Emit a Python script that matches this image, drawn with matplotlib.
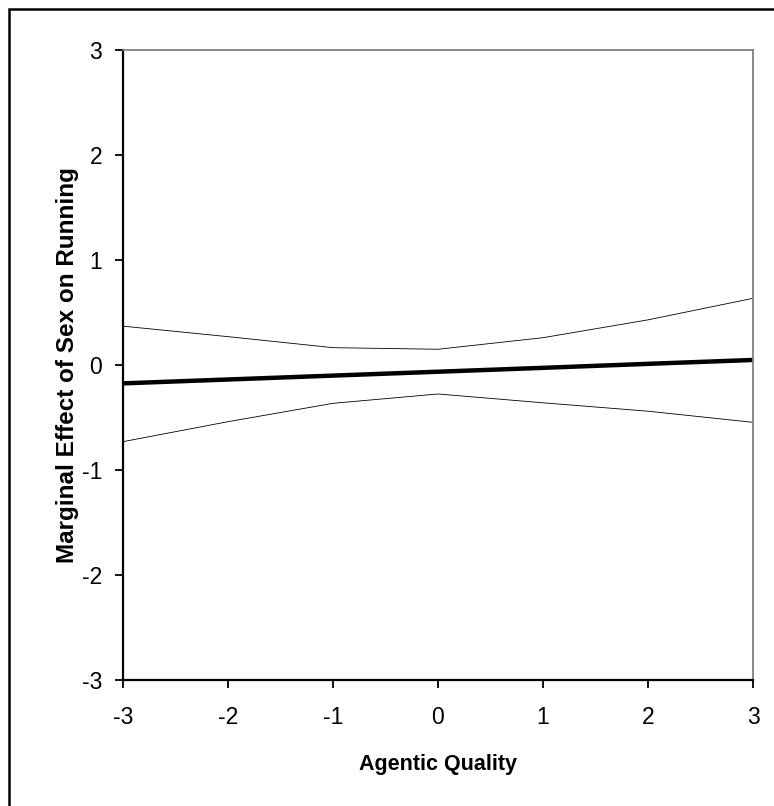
import numpy as np
import matplotlib.pyplot as plt
from matplotlib.patches import Rectangle

plt.rcParams['font.family'] = ['Liberation Sans', 'DejaVu Sans']
plt.rcParams['axes.unicode_minus'] = False

# agentic quality levels and marginal effect estimates
agentic = [-3, -2, -1, 0, 1, 2, 3]
effect = [-0.175, -0.138, -0.101, -0.064, -0.027, 0.011, 0.048]
upper = [0.37, 0.27, 0.165, 0.15, 0.26, 0.43, 0.635]
lower = [-0.73, -0.54, -0.365, -0.276, -0.36, -0.44, -0.546]
ticks = [-3, -2, -1, 0, 1, 2, 3]

fig = plt.figure(figsize=(7.74, 8.06), dpi=100)
ax = fig.add_axes([123/774, 1-680/806, (753-123)/774, (680-50)/806])

ax.plot(agentic, upper, color='black', lw=0.6)
ax.plot(agentic, lower, color='black', lw=0.6)
ax.plot(agentic, effect, color='black', lw=3.2, solid_capstyle='butt')

ax.set_xlim(-3, 3)
ax.set_ylim(-3, 3)
ax.set_xticks(ticks)
ax.set_yticks(ticks)
ax.tick_params(axis='both', direction='out', length=6, width=1.3, labelsize=16.5)
ax.tick_params(axis='x', pad=13)
ax.tick_params(axis='y', pad=9)

for s in ['left', 'bottom']:
    ax.spines[s].set_linewidth(1.6)
    ax.spines[s].set_color('black')
for s in ['top', 'right']:
    ax.spines[s].set_linewidth(1.3)
    ax.spines[s].set_color('#808080')

ax.set_xlabel('Agentic Quality', fontsize=15.5, fontweight='bold', labelpad=18)
ax.set_ylabel('Marginal Effect of Sex on Running', fontsize=17.5, fontweight='bold')
ax.yaxis.set_label_coords(-0.07, 0.5)

# outer chart border (only top and left visible in the crop)
fig.patches.append(Rectangle((8.5/774, -0.1), 1.2, 1 - 8.5/806 + 0.1,
                             transform=fig.transFigure, fill=False,
                             edgecolor='black', lw=1.8))

fig.savefig('out.png', dpi=100)
